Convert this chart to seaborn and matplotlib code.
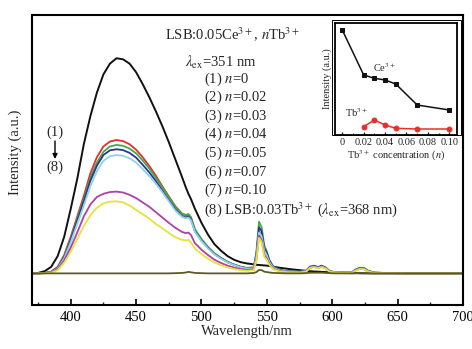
import matplotlib
matplotlib.use("Agg")
import matplotlib.pyplot as plt
import seaborn as sns
from matplotlib.patches import Rectangle
from matplotlib.ticker import MultipleLocator, FixedLocator, FixedFormatter

# ---------------- data ----------------
wavelength = [370, 375, 380, 385, 390, 395, 400, 405, 410, 415,
              420, 425, 430, 435, 440, 445, 450, 455, 460, 465,
              470, 475, 480, 485, 488, 490, 492, 495, 500, 505,
              510, 515, 520, 525, 530, 535, 540, 542, 544, 546,
              548, 550, 552, 555, 560, 565, 570, 575, 580, 583,
              586, 589, 592, 595, 598, 602, 610, 615, 618, 621,
              624, 627, 632, 640, 660, 680, 700]

int_n000 = [0, 0.2, 1.0, 3.0, 8.0, 17, 30, 44, 60, 73,
            84, 92.5, 97.5, 100, 99.5, 97.5, 93.5, 88, 82, 75.5,
            68.5, 61, 53, 45, 40, 37, 34.5, 30, 23.5, 18,
            13.5, 10.5, 8, 6.3, 5.2, 4.6, 4.2, 4.0, 3.9, 3.8,
            3.7, 3.6, 3.4, 3.1, 2.6, 2.2, 1.8, 1.5, 1.2, 1.0,
            0.9, 0.8, 0.7, 0.6, 0.5, 0.4, 0.2, 0.1, 0.1, 0.05,
            0, 0, 0, 0, 0, 0, 0]

int_n002 = [0, 0, 0.2, 0.8, 3.0, 8.5, 17, 26.5, 36, 46.5,
            54, 59, 61.3, 62, 61.5, 60, 57.5, 54, 50, 45.5,
            40.5, 35.8, 31.2, 27.8, 26.8, 27.0, 25.8, 20, 15.5, 12,
            9, 7, 5.2, 4, 3, 2.4, 2.6, 8, 19.5, 17.5,
            10.5, 8.5, 5.5, 2.8, 1.4, 1.0, 0.8, 0.7, 1.0, 2.8,
            3.2, 2.7, 3.2, 2.5, 1.0, 0.5, 0.4, 0.4, 1.6, 2.3,
            2.3, 1.2, 0.3, 0.2, 0, 0, 0]

int_n003 = [0, 0, 0.2, 0.7, 2.8, 8, 16, 25.5, 34.5, 44.5,
            51.5, 56.5, 59, 59.7, 59.3, 58, 55.8, 52.5, 48.8, 44.5,
            40, 35.5, 31, 27.8, 27.2, 27.6, 26.2, 20.5, 16, 12.3,
            9.3, 7.2, 5.4, 4.1, 3.1, 2.5, 2.9, 10, 24, 21.5,
            13, 10.2, 6.2, 3.1, 1.6, 1.1, 0.9, 0.8, 1.2, 3.2,
            3.6, 3.0, 3.6, 2.8, 1.1, 0.6, 0.5, 0.5, 1.9, 2.6,
            2.6, 1.4, 0.4, 0.2, 0, 0, 0]

int_n004 = [0, 0, 0.2, 0.6, 2.6, 7.5, 15.5, 24.5, 33.5, 43,
            50, 55, 57.2, 57.7, 57.3, 56, 53.8, 50.5, 47, 43,
            38.5, 34, 29.8, 26.7, 26, 26.3, 25, 19.5, 15.2, 11.8,
            9, 7, 5.2, 4, 3, 2.3, 2.6, 9, 21.5, 19.5,
            11.8, 9.3, 5.7, 2.9, 1.5, 1.0, 0.8, 0.7, 1.1, 3.0,
            3.4, 2.9, 3.4, 2.6, 1.0, 0.5, 0.4, 0.4, 1.7, 2.4,
            2.4, 1.3, 0.3, 0.2, 0, 0, 0]

int_n005 = [0, 0, 0.2, 0.5, 2.3, 7, 14.5, 23, 31.5, 40.5,
            47.5, 52.3, 54.5, 55, 54.7, 53.5, 51.5, 48.5, 45.3, 41.8,
            37.8, 33.5, 29.2, 26.3, 25.6, 25.9, 24.6, 19.3, 15, 11.6,
            8.8, 6.8, 5.1, 3.9, 2.9, 2.2, 2.4, 8, 19, 17.3,
            10.6, 8.3, 5.1, 2.6, 1.3, 0.9, 0.7, 0.6, 1.0, 2.7,
            3.1, 2.6, 3.1, 2.4, 0.9, 0.5, 0.4, 0.4, 1.5, 2.2,
            2.2, 1.1, 0.3, 0.2, 0, 0, 0]

int_n007 = [0, 0, 0.1, 0.5, 2, 6, 12, 19, 26.5, 32,
            35.5, 37, 37.8, 38, 37.6, 36.5, 35, 33, 31, 28.5,
            26, 23.5, 21.2, 19.3, 18.7, 19.0, 17.8, 14, 11, 8.5,
            6.3, 4.8, 3.6, 2.7, 2, 1.6, 1.9, 6.5, 17.5, 15.5,
            8.5, 6.8, 4.2, 2.1, 1.0, 0.7, 0.6, 0.5, 0.9, 2.6,
            3.0, 2.5, 3.0, 2.3, 0.9, 0.4, 0.3, 0.3, 1.4, 2.1,
            2.1, 1.0, 0.3, 0.1, 0, 0, 0]

int_n010 = [0, 0, 0.1, 0.3, 1.5, 5, 10, 16, 22, 27,
            30.5, 32.5, 33.3, 33.5, 33, 31.5, 29.5, 27.5, 25.5, 23,
            21, 18.8, 16.8, 15.6, 15.3, 15.6, 14.3, 11.5, 9, 6.8,
            5, 3.8, 2.8, 2, 1.5, 1.2, 1.5, 6, 16.5, 14.5,
            7.8, 6.2, 3.8, 1.9, 0.9, 0.6, 0.5, 0.4, 0.8, 2.5,
            2.9, 2.4, 2.9, 2.2, 0.8, 0.4, 0.3, 0.3, 1.3, 2.0,
            2.0, 1.0, 0.2, 0.1, 0, 0, 0]

int_tb003 = [0, 0, 0, 0, 0, 0, 0, 0, 0, 0,
             0, 0, 0, 0, 0, 0, 0, 0, 0, 0,
             0, 0, 0.1, 0.2, 0.4, 0.7, 0.5, 0.2, 0.1, 0,
             0, 0, 0, 0, 0, 0, 0.2, 0.6, 1.6, 1.5,
             0.8, 0.6, 0.4, 0.2, 0.1, 0, 0, 0, 0.1, 0.3,
             0.3, 0.3, 0.3, 0.2, 0.1, 0, 0, 0, 0.1, 0.2,
             0.2, 0.1, 0, 0, 0, 0, 0]

legend_labels = ["(1) $n$=0", "(2) $n$=0.02", "(3) $n$=0.03", "(4) $n$=0.04",
                 "(5) $n$=0.05", "(6) $n$=0.07", "(7) $n$=0.10",
                 "(8) LSB:0.03Tb$^{3+}$ ($\\lambda_{\\rm ex}$=368 nm)"]
series = [int_n000, int_n002, int_n003, int_n004, int_n005, int_n007, int_n010, int_tb003]
colors = ["#111111", "#e2302a", "#45a845", "#2a3690", "#8fd2ea", "#b03fa6", "#e6e23c", "#5c5b22"]

# inset data
conc = [0, 0.02, 0.03, 0.04, 0.05, 0.07, 0.10]
ce_intensity = [105, 60, 56.7, 55, 51, 30, 25]
tb_conc = [0.02, 0.03, 0.04, 0.05, 0.07, 0.10]
tb_intensity = [8.3, 15, 10, 6.7, 6, 6]
inset_ticks = [0, 0.02, 0.04, 0.06, 0.08, 0.10]
inset_ticklabels = ["0", "0.02", "0.04", "0.06", "0.08", "0.10"]
main_xticks = [400, 450, 500, 550, 600, 650, 700]

# ---------------- style ----------------
sns.set_theme(style="white")
plt.rcParams['font.family'] = ['Liberation Serif', 'DejaVu Serif']
plt.rcParams['mathtext.fontset'] = 'stix'

fig = plt.figure(figsize=(4.72, 3.49), dpi=100)
fig.patch.set_facecolor("white")

W, H = 472.0, 349.0
L, R, T, B = 31.5, 463.0, 15.0, 305.0
ax = fig.add_axes([L / W, 1 - B / H, (R - L) / W, (B - T) / H])

for vals, c in zip(series, colors):
    lw = 1.4 if c == "#111111" else 1.3
    sns.lineplot(x=wavelength, y=vals, color=c, lw=lw, ax=ax, legend=False)

ax.set_xlim(370, 700)
ax.set_ylim(-14.7, 120.1)
ax.set_yticks([])
ax.xaxis.set_major_locator(FixedLocator(main_xticks))
ax.xaxis.set_minor_locator(MultipleLocator(25))
ax.tick_params(axis='x', which='major', direction='in', length=4, width=1.2,
               labelsize=10.5, pad=4, bottom=True, colors='black')
ax.tick_params(axis='x', which='minor', direction='in', length=2.5, width=1.0, bottom=True)
for s in ax.spines.values():
    s.set_linewidth(1.5)
    s.set_color('black')
ax.set_xlabel("Wavelength/nm", fontsize=10.5, labelpad=1)
ax.set_ylabel("")
fig.text(15 / W, 1 - 152 / H, "Intensity (a.u.)", rotation=90, ha='center', va='center',
         fontsize=10.5)

def axfx(px):
    return (px - L) / (R - L)

def axfy(py):
    return 1 - (py - T) / (B - T)

ax.text(axfx(165), axfy(35), "LSB:0.05Ce$^{3+}$, $n$Tb$^{3+}$", transform=ax.transAxes,
        fontsize=10.5, ha='left', va='center')
ax.text(axfx(185), axfy(62), "$\\lambda_{\\rm ex}$=351 nm", transform=ax.transAxes,
        fontsize=10.5, ha='left', va='center')
for i, lab in enumerate(legend_labels):
    ax.text(axfx(204), axfy(79 + 18.6 * i), lab, transform=ax.transAxes,
            fontsize=10.5, ha='left', va='center')

ax.text(axfx(55), axfy(132), "(1)", transform=ax.transAxes, fontsize=10.5,
        ha='center', va='center')
ax.text(axfx(55), axfy(167), "(8)", transform=ax.transAxes, fontsize=10.5,
        ha='center', va='center')
ax.annotate("", xy=(axfx(55), axfy(159)), xytext=(axfx(55), axfy(141)),
            xycoords='axes fraction', textcoords='axes fraction',
            arrowprops=dict(arrowstyle='-|>', color='black', lw=1.0,
                            mutation_scale=7, shrinkA=0, shrinkB=0))

# ---------------- inset ----------------
iL, iR, iT, iB = 335.0, 457.0, 23.0, 135.0
ins = fig.add_axes([iL / W, 1 - iB / H, (iR - iL) / W, (iB - iT) / H])
ins.set_facecolor("white")
sns.lineplot(x=conc, y=ce_intensity, color="#111111", lw=1.1, marker='s', markersize=3.5,
             markeredgecolor="#111111", ax=ins, legend=False)
sns.lineplot(x=tb_conc, y=tb_intensity, color="#e2302a", lw=1.1, marker='o', markersize=3.5,
             markeredgecolor="#e2302a", ax=ins, legend=False)
ins.set_xlim(-0.0068, 0.1072)
ins.set_ylim(0, 112)
ins.set_yticks([])
ins.xaxis.set_major_locator(FixedLocator(inset_ticks))
ins.xaxis.set_major_formatter(FixedFormatter(inset_ticklabels))
ins.xaxis.set_minor_locator(MultipleLocator(0.01))
ins.tick_params(axis='x', which='major', direction='in', length=2.5, width=1.0,
                labelsize=7.5, pad=2, bottom=True)
ins.tick_params(axis='x', which='minor', direction='in', length=1.5, width=0.8, bottom=True)
for s in ins.spines.values():
    s.set_linewidth(1.3)
    s.set_color('black')
ins.set_xlabel("Tb$^{3+}$ concentration ($n$)", fontsize=7.5, labelpad=1)
ins.set_ylabel("Intensity (a.u.)", fontsize=7.5, labelpad=2)
ins.text((385 - iL) / (iR - iL), 1 - (68 - iT) / (iB - iT), "Ce$^{3+}$",
         transform=ins.transAxes, fontsize=7.5, ha='center', va='center')
ins.text((357 - iL) / (iR - iL), 1 - (113 - iT) / (iB - iT), "Tb$^{3+}$",
         transform=ins.transAxes, fontsize=7.5, ha='center', va='center')

fig.patches.append(Rectangle((331.5 / W, 1 - iB / H), (460.5 - 331.5) / W, (iB - 19.5) / H,
                             transform=fig.transFigure, fill=False, lw=0.7,
                             edgecolor='black', zorder=5))

fig.savefig("out.png", dpi=100, facecolor="white")
